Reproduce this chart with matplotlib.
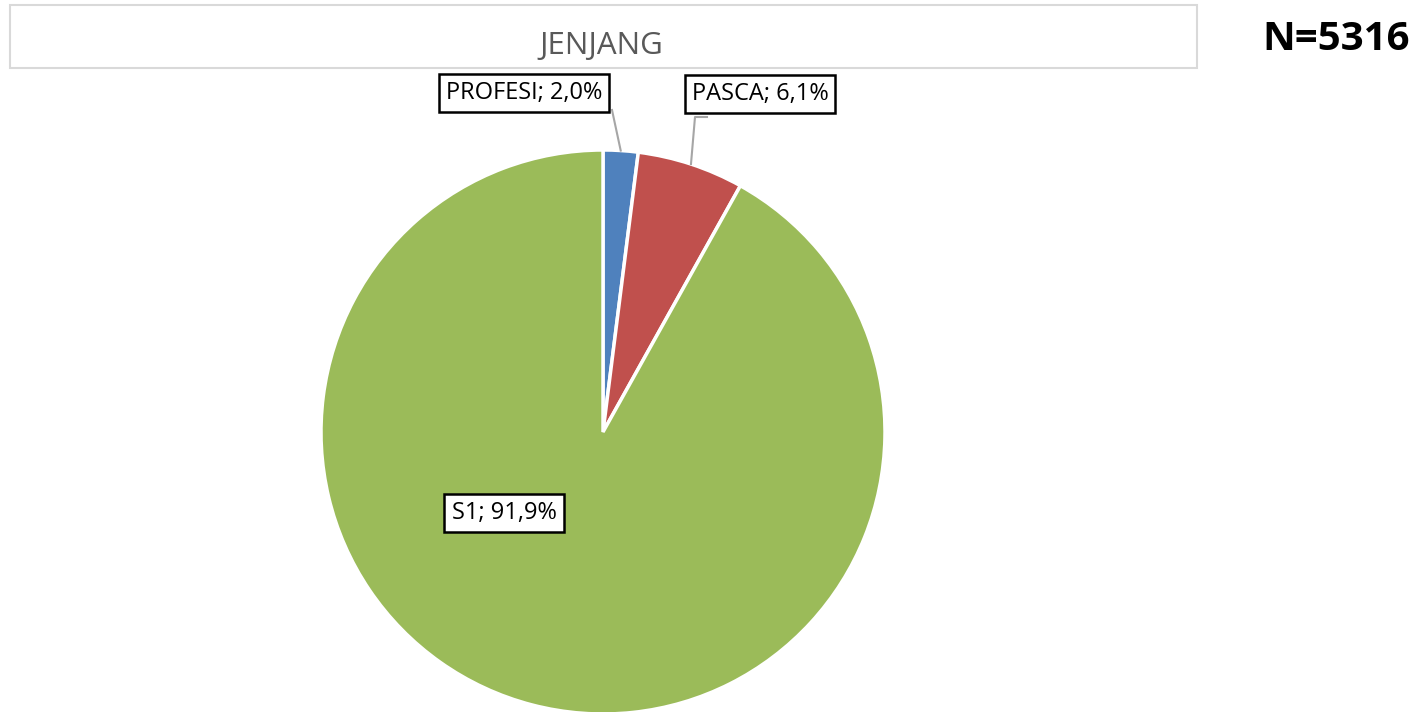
import matplotlib
matplotlib.use("Agg")
import matplotlib.pyplot as plt
from matplotlib.patches import Rectangle
import numpy as np

categories = ["PROFESI", "PASCA", "S1"]
values = [2.0, 6.1, 91.9]
colors = ["#4F81BD", "#C0504D", "#9BBB59"]
title = "JENJANG"
n_text = "N=5316"

plt.rcParams['font.family'] = ['Open Sans', 'DejaVu Sans']

W, H = 1420, 712
fig = plt.figure(figsize=(W/100, H/100), dpi=100)

def fx(px): return px / W
def fy(py): return 1 - py / H

fig.patches.append(Rectangle((fx(10), fy(68)), fx(1197) - fx(10), fy(5) - fy(68),
                             transform=fig.transFigure, facecolor="white",
                             edgecolor="#D9D9D9", linewidth=1.5))
fig.text(fx(601), fy(46.5), title, ha="center", va="center", fontsize=22.5, color="#595959")
fig.text(fx(1410), fy(39), n_text, ha="right", va="center", fontsize=29,
         fontweight="bold", color="black")

cx, cy, r = 603, 432, 282
ax = fig.add_axes([fx(cx - r), fy(cy + r), 2 * r / W, 2 * r / H])

wedges, _ = ax.pie(values, colors=colors, startangle=90, counterclock=False,
                   radius=1, wedgeprops=dict(edgecolor="white", linewidth=2.5))
ax.set_xlim(-1, 1)
ax.set_ylim(-1, 1)
ax.set_aspect("equal")
ax.axis("off")
for w in wedges:
    w.set_clip_on(False)

def d(px, py):
    return ((px - cx) / r, (cy - py) / r)

labels = [f"{c}; {v:.1f}%".replace(".", ",") for c, v in zip(categories, values)]
label_pos = [d(524, 93), d(760, 94), d(504, 513)]

cum = np.cumsum([0] + values)
for i, (lab, pos) in enumerate(zip(labels, label_pos)):
    ax.text(pos[0], pos[1], lab, ha="center", va="center", fontsize=17, color="black",
            bbox=dict(boxstyle="square,pad=0.3", facecolor="white", edgecolor="black",
                      linewidth=1.8), clip_on=False, zorder=5)

# leader lines
mid0 = np.deg2rad(90 - (cum[0] + values[0] / 2) * 3.6)
p_end = (np.cos(mid0), np.sin(mid0))
p_start = d(612, 110)
ax.plot([p_start[0], p_end[0]], [p_start[1], p_end[1]], color="#A6A6A6", lw=1.5,
        clip_on=False, zorder=4)
mid1 = np.deg2rad(90 - (cum[1] + values[1] / 2) * 3.6)
p_end = (np.cos(mid1), np.sin(mid1))
a = d(707, 117)
b = d(695, 117)
ax.plot([a[0], b[0], p_end[0]], [a[1], b[1], p_end[1]], color="#A6A6A6", lw=1.5,
        clip_on=False, zorder=4)

fig.savefig("out.png", dpi=100)
